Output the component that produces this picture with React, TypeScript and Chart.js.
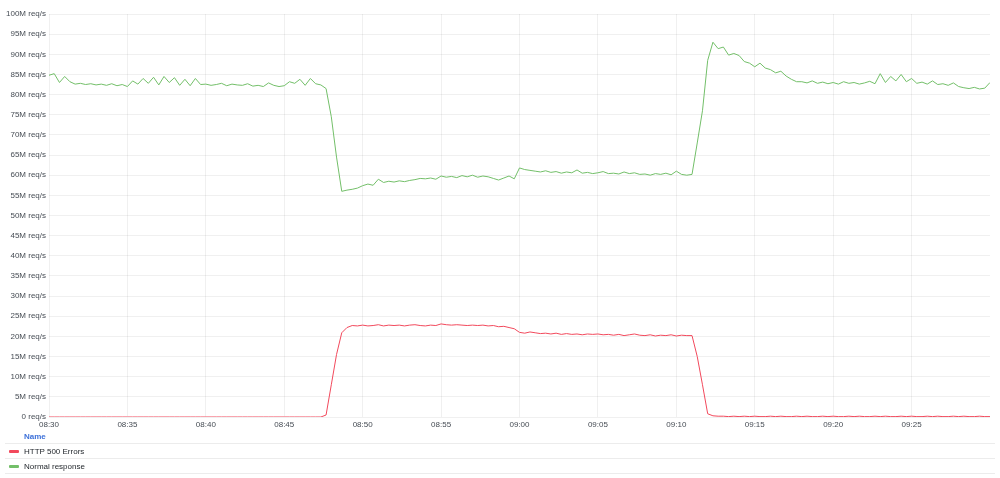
import React, { useEffect, useRef } from "react";
import { Chart, registerables } from "chart.js";

Chart.register(...registerables);

// seconds since 08:30, one sample every 20 s
const STEP_SECONDS = 20;

const normalResponse: number[] = [
  84.8, 85.2, 83.0, 84.5, 83.2, 82.6, 82.8, 82.5, 82.7, 82.4, 82.6, 82.3,
  82.7, 82.2, 82.5, 82.0, 83.4, 82.6, 84.0, 82.8, 84.3, 82.4, 84.5, 83.0,
  84.2, 82.3, 83.8, 82.2, 84.0, 82.5, 82.6, 82.3, 82.5, 82.8, 82.2, 82.6,
  82.4, 82.3, 82.7, 82.1, 82.3, 82.0, 82.9, 82.3, 82.0, 82.2, 83.2, 82.8,
  83.8, 82.3, 84.0, 82.7, 82.4, 81.5, 74.5, 64.5, 56.0, 56.3, 56.5, 56.8,
  57.4, 57.8, 57.5, 59.0, 58.2, 58.5, 58.3, 58.6, 58.4, 58.7, 58.9, 59.2,
  59.1, 59.3, 59.0, 59.8, 59.5, 59.7, 59.4, 59.9, 59.6, 60.0, 59.5, 59.8,
  59.6, 59.2, 58.8, 59.3, 59.8, 59.1, 61.8, 61.4, 61.2, 61.0, 60.8, 61.1,
  60.7, 60.9, 60.5, 60.8, 60.6, 61.3, 60.5, 60.7, 60.4, 60.6, 60.9, 60.4,
  60.5, 60.3, 60.8, 60.4, 60.6, 60.2, 60.3, 60.0, 60.4, 60.2, 60.5, 60.1,
  61.0, 60.2, 60.0, 60.2, 68.0, 76.0, 88.5, 93.0, 91.4, 91.8, 89.8, 90.2,
  89.7, 88.2, 87.8, 86.9, 87.8, 86.6, 86.2, 85.4, 85.8, 84.6, 83.8, 83.2,
  83.2, 82.9, 83.4, 82.8, 83.1, 82.7, 83.0, 82.6, 83.2, 82.8, 83.0, 82.6,
  82.9, 83.3, 82.7, 85.2, 83.0, 84.5, 83.4, 85.0, 83.2, 84.0, 82.8, 83.1,
  82.6, 83.4, 82.5, 82.7, 82.3, 82.9, 82.0, 81.7, 81.5, 81.8, 81.4, 81.6,
  83.0,
];

const http500Errors: number[] = [
  0, 0, 0, 0, 0, 0, 0, 0, 0, 0, 0, 0,
  0, 0, 0, 0, 0, 0, 0, 0, 0, 0, 0, 0,
  0, 0, 0, 0, 0, 0, 0, 0, 0, 0, 0, 0,
  0, 0, 0, 0, 0, 0, 0, 0, 0, 0, 0, 0,
  0, 0, 0, 0, 0, 0.5, 8.0, 15.5, 20.9, 22.2, 22.7, 22.6,
  22.8, 22.6, 22.7, 22.9, 22.6, 22.8, 22.7, 22.8, 22.6, 22.8, 22.9, 22.7,
  22.6, 22.8, 22.7, 23.1, 22.9, 22.8, 22.9, 22.8, 22.7, 22.8, 22.7, 22.8,
  22.6, 22.7, 22.4, 22.5, 22.2, 21.9, 21.0, 20.8, 21.1, 20.9, 20.7, 20.8,
  20.6, 20.8, 20.5, 20.7, 20.5, 20.6, 20.4, 20.6, 20.5, 20.6, 20.4, 20.5,
  20.3, 20.5, 20.2, 20.4, 20.6, 20.3, 20.2, 20.4, 20.1, 20.3, 20.2, 20.4,
  20.1, 20.3, 20.2, 20.2, 15.0, 8.0, 0.8, 0.3, 0.2, 0.2, 0.1, 0.2,
  0.1, 0.2, 0.1, 0.2, 0.1, 0.1, 0.2, 0.1, 0.2, 0.1, 0.1, 0.2,
  0.1, 0.2, 0.1, 0.1, 0.2, 0.1, 0.2, 0.1, 0.1, 0.2, 0.1, 0.2,
  0.1, 0.1, 0.2, 0.1, 0.2, 0.1, 0.1, 0.2, 0.1, 0.2, 0.1, 0.1,
  0.2, 0.1, 0.2, 0.1, 0.1, 0.2, 0.1, 0.2, 0.1, 0.1, 0.2, 0.1,
  0.1,
];

const xTickLabels: string[] = [
  "08:30", "08:35", "08:40", "08:45", "08:50", "08:55",
  "09:00", "09:05", "09:10", "09:15", "09:20", "09:25",
];

const yTickLabels: string[] = [
  "0 req/s", "5M req/s", "10M req/s", "15M req/s", "20M req/s", "25M req/s",
  "30M req/s", "35M req/s", "40M req/s", "45M req/s", "50M req/s", "55M req/s",
  "60M req/s", "65M req/s", "70M req/s", "75M req/s", "80M req/s", "85M req/s",
  "90M req/s", "95M req/s", "100M req/s",
];

const seriesNames: string[] = ["HTTP 500 Errors", "Normal response"];
const seriesColors: string[] = ["#F2495C", "#73BF69"];

const FONT = "'Liberation Sans', Arial, sans-serif";

export default function App() {
  const canvasRef = useRef<HTMLCanvasElement | null>(null);

  useEffect(() => {
    if (!canvasRef.current) return;
    const toPoints = (arr: number[]) =>
      arr.map((v, i) => ({ x: i * STEP_SECONDS, y: v }));
    const chart = new Chart(canvasRef.current, {
      type: "line",
      data: {
        datasets: [
          {
            label: seriesNames[0],
            data: toPoints(http500Errors),
            borderColor: seriesColors[0],
            borderWidth: 1,
            pointRadius: 0,
            tension: 0,
            fill: false,
          },
          {
            label: seriesNames[1],
            data: toPoints(normalResponse),
            borderColor: seriesColors[1],
            borderWidth: 1,
            pointRadius: 0,
            tension: 0,
            fill: false,
          },
        ],
      },
      options: {
        animation: false,
        responsive: false,
        maintainAspectRatio: false,
        layout: { padding: { top: 14, right: 10, left: 0, bottom: 0 } },
        plugins: { legend: { display: false }, tooltip: { enabled: false } },
        scales: {
          x: {
            type: "linear",
            min: 0,
            max: (normalResponse.length - 1) * STEP_SECONDS,
            afterBuildTicks: (scale: any) => {
              scale.ticks = scale.ticks.filter(
                (t: any) => t.value < xTickLabels.length * 300
              );
            },
            afterFit: (scale: any) => {
              scale.height = 15;
            },
            ticks: {
              stepSize: 300,
              autoSkip: false,
              maxRotation: 0,
              padding: 3,
              color: "#464c54",
              font: { family: FONT, size: 8 },
              callback: (v: any) => xTickLabels[Math.round(Number(v) / 300)] ?? "",
            },
            grid: { color: "rgba(36,41,46,0.07)", drawTicks: false },
            border: { display: false },
          },
          y: {
            min: 0,
            max: 100,
            afterFit: (scale: any) => {
              scale.width = 49;
            },
            ticks: {
              stepSize: 5,
              padding: 3,
              color: "#464c54",
              font: { family: FONT, size: 8 },
              callback: (v: any) => yTickLabels[Math.round(Number(v) / 5)] ?? "",
            },
            grid: { color: "rgba(36,41,46,0.07)", drawTicks: false },
            border: { display: false },
          },
        },
      },
    } as any);
    return () => chart.destroy();
  }, []);

  const rowStyle: React.CSSProperties = {
    height: 14,
    borderBottom: "1px solid #ececec",
    display: "flex",
    alignItems: "center",
    fontFamily: FONT,
    fontSize: 8,
    color: "#24292e",
  };

  return (
    <div
      style={{
        position: "absolute",
        left: 0,
        top: 0,
        width: 1000,
        height: 478,
        background: "#ffffff",
        overflow: "hidden",
      }}
    >
      <canvas ref={canvasRef} width={1000} height={432} style={{ display: "block", width: 1000, height: 432 }} />
      <div style={{ position: "absolute", left: 5, top: 429, width: 990 }}>
        <div style={{ ...rowStyle, color: "#3d71d9", fontWeight: 700, paddingLeft: 19 }}>Name</div>
        {seriesNames.map((name, i) => (
          <div key={name} style={rowStyle}>
            <span
              style={{
                display: "inline-block",
                width: 10,
                height: 3,
                borderRadius: 1,
                background: seriesColors[i],
                marginLeft: 4,
                marginRight: 5,
              }}
            />
            <span>{name}</span>
          </div>
        ))}
      </div>
    </div>
  );
}
